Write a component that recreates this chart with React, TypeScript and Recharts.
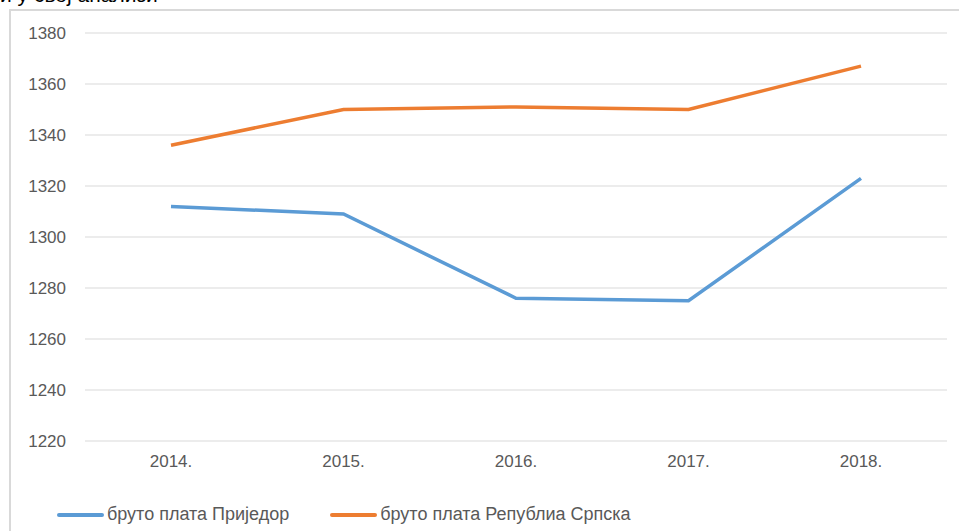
import { LineChart, Line, XAxis, YAxis, CartesianGrid } from "recharts";

const years = ["2014.", "2015.", "2016.", "2017.", "2018."];
const prijedor = [1312, 1309, 1276, 1275, 1323];
const republikaSrpska = [1336, 1350, 1351, 1350, 1367];
const yTicks = [1220, 1240, 1260, 1280, 1300, 1320, 1340, 1360, 1380];

const SERIES = [
  { key: "prijedor", name: "бруто плата Приједор", color: "#5B9BD5" },
  { key: "rs", name: "бруто плата Републиа Српска", color: "#ED7D31" },
];

const data = years.map((year, i) => ({
  year,
  prijedor: prijedor[i],
  rs: republikaSrpska[i],
}));

const FONT = "'Liberation Sans', Arial, sans-serif";
const TEXT = "#595959";

function ChartLegend() {
  return (
    <div
      style={{
        position: "absolute",
        left: 57,
        top: 504,
        display: "flex",
        alignItems: "center",
        fontFamily: FONT,
        fontSize: 18,
        color: TEXT,
        whiteSpace: "nowrap",
      }}
    >
      {SERIES.map((s, i) => (
        <div key={s.key} style={{ display: "flex", alignItems: "center", marginRight: i === 0 ? 41 : 0 }}>
          <span style={{ display: "inline-block", width: 47, height: 4, background: s.color, borderRadius: 2, marginRight: 3 }} />
          <span>{s.name}</span>
        </div>
      ))}
    </div>
  );
}

export default function App() {
  return (
    <div
      style={{
        position: "absolute",
        left: 0,
        top: 0,
        width: 959,
        height: 531,
        overflow: "hidden",
        background: "#fff",
      }}
    >
      <div
        style={{
          position: "absolute",
          left: 0,
          top: -17,
          fontFamily: FONT,
          fontSize: 21,
          color: "#000",
          whiteSpace: "nowrap",
        }}
      >
        и у свој анализи
      </div>
      <div
        style={{
          position: "absolute",
          left: 9,
          top: 9,
          width: 980,
          height: 560,
          border: "2px solid #d9d9d9",
        }}
      />
      <div style={{ position: "absolute", left: 0, top: 0 }}>
        <LineChart width={959} height={531} data={data} margin={{ top: 33, right: 12, bottom: 60, left: 0 }}>
          <CartesianGrid vertical={false} stroke="#d9d9d9" strokeWidth={1} />
          <XAxis
            dataKey="year"
            axisLine={false}
            tickLine={false}
            tickMargin={8}
            padding={{ left: 86, right: 86 }}
            tick={{ fontSize: 17, fill: TEXT, fontFamily: FONT }}
          />
          <YAxis
            width={85}
            domain={[1220, 1380]}
            ticks={yTicks}
            axisLine={false}
            tickLine={false}
            tickMargin={13}
            tick={{ fontSize: 17, fill: TEXT, fontFamily: FONT }}
          />
          {SERIES.map((s) => (
            <Line
              key={s.key}
              dataKey={s.key}
              name={s.name}
              stroke={s.color}
              strokeWidth={3.5}
              dot={false}
              type="linear"
              isAnimationActive={false}
            />
          ))}
        </LineChart>
      </div>
      <ChartLegend />
    </div>
  );
}
